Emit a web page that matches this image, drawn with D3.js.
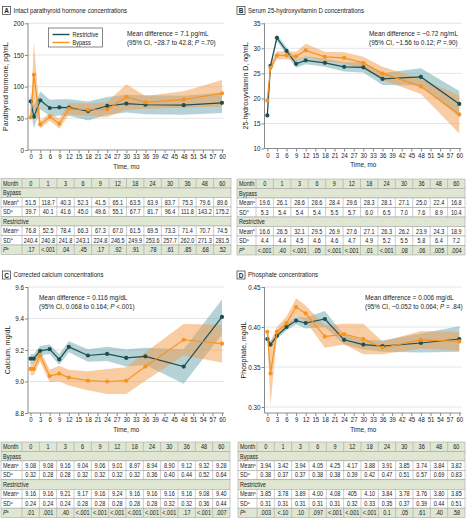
<!DOCTYPE html>
<html><head><meta charset="utf-8">
<script src="https://cdn.jsdelivr.net/npm/d3@7"></script>
<style>
body{margin:0;background:#fff}
svg{display:block;font-family:'Liberation Sans','Arial',sans-serif}
</style></head><body>
<svg id="chart" width="468" height="523"></svg>
<script>
// ---------- data ----------
const months = [0, 1, 3, 6, 9, 12, 18, 24, 30, 36, 48, 60];
const xTickValues = d3.range(0, 61, 3);

// Panel A: intact PTH (pg/mL)
const pthBypassMean = [51.5, 118.7, 40.3, 52.3, 41.5, 65.1, 63.5, 63.9, 83.7, 75.3, 79.6, 89.6];
const pthBypassCI   = [5, 52, 6, 6, 8, 9, 10, 12, 20, 10, 13, 21];
const pthRestrMean  = [76.8, 52.5, 78.4, 66.3, 67.3, 67.0, 61.5, 69.5, 73.3, 71.4, 70.7, 74.5];
const pthRestrCI    = [14, 18, 14, 13, 13, 13, 15, 14, 14, 15, 15, 16];
const pthTicks = [0, 50, 100, 150, 200];

// Panel B: 25-hydroxyvitamin D (ng/mL)
const vitdBypassMean = [19.6, 26.1, 28.6, 28.6, 28.4, 29.6, 28.3, 28.1, 27.1, 25.0, 22.4, 16.8];
const vitdBypassCI   = [0.8, 0.8, 0.8, 0.8, 0.9, 1.3, 1.0, 1.1, 1.2, 1.3, 1.5, 3.8];
const vitdRestrMean  = [16.6, 26.5, 32.1, 29.5, 26.9, 27.6, 27.1, 26.3, 26.2, 23.9, 24.3, 18.9];
const vitdRestrCI    = [0.7, 0.7, 0.7, 0.7, 0.8, 0.8, 0.8, 0.9, 1.0, 1.2, 1.7, 2.6];
const vitdTicks = [10, 15, 20, 25, 30, 35];

// Panel C: corrected calcium (mg/dL), as plotted
const caBypassMean = [9.08, 9.08, 9.165, 9.035, 9.05, 9.025, 9.005, 9.0, 9.005, 9.095, 9.265, 9.24];
const caBypassCI   = [0.04, 0.04, 0.04, 0.04, 0.05, 0.05, 0.06, 0.08, 0.085, 0.09, 0.1, 0.12];
const caRestrMean  = [9.145, 9.145, 9.195, 9.205, 9.14, 9.22, 9.165, 9.175, 9.15, 9.16, 9.095, 9.41];
const caRestrCI    = [0.03, 0.03, 0.03, 0.03, 0.035, 0.035, 0.04, 0.045, 0.055, 0.055, 0.11, 0.11];
const caTicks = [8.8, 9.0, 9.2, 9.4, 9.6];

// Panel D: phosphate, as plotted
const phBypassMean = [0.394, 0.342, 0.394, 0.405, 0.425, 0.417, 0.388, 0.391, 0.385, 0.374, 0.384, 0.382];
const phBypassCI   = [0.004, 0.04, 0.006, 0.008, 0.011, 0.01, 0.014, 0.013, 0.019, 0.008, 0.011, 0.012];
const phRestrMean  = [0.385, 0.378, 0.389, 0.400, 0.408, 0.405, 0.410, 0.384, 0.378, 0.376, 0.380, 0.385];
const phRestrCI    = [0.003, 0.004, 0.004, 0.004, 0.005, 0.007, 0.010, 0.006, 0.006, 0.007, 0.012, 0.016];
const phTicks = [0.30, 0.35, 0.40, 0.45];

// Table rows
const tabMonths = ["0", "1", "3", "6", "9", "12", "18", "24", "30", "36", "48", "60"];
const tabA_bypMean = ["51.5","118.7","40.3","52.3","41.5","65.1","63.5","63.9","83.7","75.3","79.6","89.6"];
const tabA_bypSD   = ["39.7","40.1","41.6","45.0","49.6","55.1","67.7","81.7","96.4","111.8","143.2","175.2"];
const tabA_resMean = ["76.8","52.5","78.4","66.3","67.3","67.0","61.5","69.5","73.3","71.4","70.7","74.5"];
const tabA_resSD   = ["240.4","240.8","241.8","243.1","224.8","246.5","249.9","253.6","257.7","262.0","271.3","281.5"];
const tabA_P       = [".17","<.001",".04",".45",".17",".92",".91",".78",".61",".85",".68",".52"];

const tabB_bypMean = ["19.6","26.1","28.6","28.6","28.4","29.6","28.3","28.1","27.1","25.0","22.4","16.8"];
const tabB_bypSD   = ["5.3","5.4","5.4","5.4","5.5","5.7","6.0","6.5","7.0","7.6","8.9","10.4"];
const tabB_resMean = ["16.6","26.5","32.1","29.5","26.9","27.6","27.1","26.3","26.2","23.9","24.3","18.9"];
const tabB_resSD   = ["4.4","4.4","4.5","4.6","4.6","4.7","4.9","5.2","5.5","5.8","6.4","7.2"];
const tabB_P       = ["<.001",".40","<.001",".05","<.001","<.001",".01","<.001",".08",".06",".005",".004"];

const tabC_bypMean = ["9.08","9.08","9.16","9.04","9.06","9.01","8.97","8.94","8.90","9.12","9.32","9.28"];
const tabC_bypSD   = ["0.32","0.28","0.28","0.32","0.32","0.32","0.32","0.36","0.40","0.44","0.52","0.64"];
const tabC_resMean = ["9.16","9.16","9.21","9.17","9.16","9.24","9.16","9.16","9.16","9.16","9.08","9.40"];
const tabC_resSD   = ["0.24","0.24","0.24","0.28","0.28","0.28","0.28","0.28","0.32","0.32","0.36","0.44"];
const tabC_P       = [".01",".001",".40","<.001","<.001","<.001","<.001","<.001","<.001",".17","<.001",".007"];

const tabD_bypMean = ["3.94","3.42","3.94","4.05","4.25","4.17","3.88","3.91","3.85","3.74","3.84","3.82"];
const tabD_bypSD   = ["0.38","0.37","0.37","0.38","0.38","0.39","0.42","0.47","0.51","0.57","0.69","0.83"];
const tabD_resMean = ["3.85","3.78","3.89","4.00","4.08","405","4.10","3.84","3.78","3.76","3.80","3.85"];
const tabD_resSD   = ["0.31","0.31","0.31","0.31","0.31","0.32","0.33","0.35","0.37","0.39","0.44","0.51"];
const tabD_P       = [".003","<.10",".10",".097","<.001","<.001","<.001","0.1",".05",".61",".40",".58"];

// ---------- styles ----------
const TEAL = "#1f4f4e", ORANGE = "#f7931e";
const TEAL_BAND = "#5a9ea5", ORANGE_BAND = "#f39c4a";
const AXIS = "#8a8a8a", GRID = "#dedede", TXT = "#222";
const GREEN = "#dfe7d2", BORDER = "#9a9a9a";

const svg = d3.select("#chart");

// horizontally condense a text around its x anchor
function condense(sel, k) {
  sel.each(function () {
    const x = +this.getAttribute("x") || 0;
    this.setAttribute("transform", `translate(${x * (1 - k)},0) scale(${k},1)`);
  });
}

function panel(cfg) {
  const g = svg.append("g");
  const x = d3.scaleLinear().domain([0, 60]).range([cfg.x0, cfg.x1]);
  const y = d3.scaleLinear().domain(cfg.domain).range([cfg.yBot, cfg.yTop]);

  // title
  g.append("rect").attr("x", cfg.tx).attr("y", cfg.ty - 6.5).attr("width", 8).attr("height", 8)
    .attr("fill", "#fff").attr("stroke", "#333").attr("stroke-width", 0.7);
  g.append("text").attr("x", cfg.tx + 4).attr("y", cfg.ty).attr("text-anchor", "middle")
    .attr("font-size", 6.5).attr("font-weight", "bold").attr("fill", TXT).text(cfg.letter);
  g.append("text").attr("x", cfg.tx + 11).attr("y", cfg.ty).attr("font-size", 7.5).attr("fill", TXT)
    .text(cfg.title).call(condense, 0.81);

  // gridlines
  g.append("g").selectAll("line").data(cfg.ticks.filter(t => y(t) < cfg.yBot - 1)).join("line")
    .attr("x1", cfg.axisX).attr("x2", cfg.x1 + 2).attr("y1", d => y(d)).attr("y2", d => y(d))
    .attr("stroke", GRID).attr("stroke-width", 0.8);

  // y axis
  const ya = g.append("g").attr("transform", `translate(${cfg.axisX},0)`)
    .call(d3.axisLeft(y).tickValues(cfg.ticks).tickSize(3).tickSizeOuter(0).tickFormat(cfg.fmt));
  ya.select(".domain").attr("stroke", AXIS).attr("d", `M0,${cfg.yTop}V${cfg.yBot}`);
  ya.selectAll(".tick line").attr("stroke", AXIS);
  ya.selectAll(".tick text").attr("font-size", 7).attr("fill", TXT).attr("font-family", null).attr("x", -4)
    .call(condense, 0.9);

  // x axis
  const xa = g.append("g").attr("transform", `translate(0,${cfg.yBot})`)
    .call(d3.axisBottom(x).tickValues(xTickValues).tickSize(3).tickSizeOuter(0));
  xa.select(".domain").attr("stroke", AXIS).attr("d", `M${cfg.axisX},0H${cfg.x1 + 2}`);
  xa.selectAll(".tick line").attr("stroke", AXIS);
  xa.selectAll(".tick text").attr("font-size", 7).attr("fill", TXT).attr("font-family", null).attr("y", 4.5)
    .call(condense, 0.86);
  g.append("text").attr("x", (cfg.x0 + cfg.x1) / 2).attr("y", cfg.yBot + 19).attr("text-anchor", "middle")
    .attr("font-size", 7.2).attr("fill", TXT).text("Time, mo").call(condense, 0.88);

  // y label
  g.append("text").attr("transform", `translate(${cfg.ylx},${(cfg.yTop + cfg.yBot) / 2}) rotate(-90)`)
    .attr("text-anchor", "middle").attr("font-size", 7).attr("fill", TXT).text(cfg.ylabel);

  // bands
  const series = [
    {mean: cfg.rMean, ci: cfg.rCI, band: TEAL_BAND, op: 0.45, col: TEAL},
    {mean: cfg.bMean, ci: cfg.bCI, band: ORANGE_BAND, op: 0.5, col: ORANGE}
  ];
  series.forEach(s => {
    const area = d3.area().x((d, i) => x(months[i]))
      .y0((d, i) => y(s.mean[i] - s.ci[i])).y1((d, i) => y(s.mean[i] + s.ci[i]));
    g.append("path").datum(s.mean).attr("d", area).attr("fill", s.band).attr("fill-opacity", s.op);
  });
  series.forEach(s => {
    const line = d3.line().x((d, i) => x(months[i])).y(d => y(d));
    g.append("path").datum(s.mean).attr("d", line).attr("fill", "none").attr("stroke", s.col).attr("stroke-width", 1.2);
    g.append("g").selectAll("circle").data(s.mean).join("circle")
      .attr("cx", (d, i) => x(months[i])).attr("cy", d => y(d)).attr("r", 2.1).attr("fill", s.col);
  });

  // annotation
  const ann = g.append("text").attr("x", cfg.ax).attr("font-size", 7.3).attr("fill", TXT);
  ann.append("tspan").attr("x", cfg.ax).attr("y", cfg.ay).text(cfg.ann1);
  const l2 = ann.append("tspan").attr("x", cfg.ax).attr("y", cfg.ay + 8.6);
  l2.append("tspan").text(cfg.ann2a);
  l2.append("tspan").attr("font-style", "italic").text("P");
  l2.append("tspan").text(cfg.ann2b);
  ann.call(condense, 0.88);

  // legend
  if (cfg.legend) {
    const L = cfg.legend;
    g.append("rect").attr("x", L.x).attr("y", L.y).attr("width", L.w).attr("height", L.h)
      .attr("fill", "#fff").attr("stroke", "#555").attr("stroke-width", 0.7);
    [["Restrictive", TEAL, 0], ["Bypass", ORANGE, 1]].forEach(([name, col, i]) => {
      const yy = L.y + 6.5 + i * 8;
      g.append("line").attr("x1", L.x + 4).attr("x2", L.x + 21).attr("y1", yy).attr("y2", yy)
        .attr("stroke", col).attr("stroke-width", 1.4);
      g.append("text").attr("x", L.x + 24).attr("y", yy + 2.4).attr("font-size", 6.8).attr("fill", TXT)
        .text(name).call(condense, 0.82);
    });
  }

  // table
  table(g, cfg.tab);
}

function table(g, T) {
  const rows = [
    {kind: "data", label: "Month", vals: tabMonths, fill: GREEN},
    {kind: "group", label: "Bypass", fill: GREEN},
    {kind: "data", label: "Mean", sup: "a", vals: T.bm},
    {kind: "data", label: "SD", sup: "a", vals: T.bs},
    {kind: "group", label: "Restrictive", fill: GREEN},
    {kind: "data", label: "Mean", sup: "a", vals: T.rm},
    {kind: "data", label: "SD", sup: "a", vals: T.rs},
    {kind: "data", label: "P", italic: true, sup: "b", vals: T.p, fill: GREEN}
  ];
  const cw = (T.x1 - T.fc) / 12;
  const fs = 6.9, K = 0.8;
  rows.forEach((r, i) => {
    const yy = T.y0 + i * T.rh;
    g.append("rect").attr("x", T.x0).attr("y", yy).attr("width", T.x1 - T.x0).attr("height", T.rh)
      .attr("fill", r.fill || "#fff").attr("stroke", BORDER).attr("stroke-width", 0.5);
    const by = yy + T.rh / 2 + 2.4;
    const lt = g.append("text").attr("x", T.x0 + 2).attr("y", by).attr("font-size", fs).attr("fill", TXT);
    lt.append("tspan").attr("font-style", r.italic ? "italic" : null).text(r.label);
    if (r.sup) lt.append("tspan").attr("font-size", 4.4).attr("dy", -2.3).text(r.sup);
    lt.call(condense, K);
    if (r.kind === "data") {
      for (let c = 0; c < 12; c++) {
        const xx = T.fc + c * cw;
        g.append("line").attr("x1", xx).attr("x2", xx).attr("y1", yy).attr("y2", yy + T.rh)
          .attr("stroke", BORDER).attr("stroke-width", 0.5);
      }
      r.vals.forEach((v, c) => {
        g.append("text").attr("x", T.fc + (c + 0.5) * cw).attr("y", by).attr("text-anchor", "middle")
          .attr("font-size", fs).attr("fill", TXT).text(v).call(condense, K);
      });
    }
  });
}

panel({
  letter: "A", title: "Intact parathyroid hormone concentrations", tx: 2.5, ty: 13,
  x0: 30.7, x1: 222, axisX: 28, yTop: 23.3, yBot: 150, domain: [0, 200], ticks: pthTicks, fmt: d3.format("d"),
  ylx: 8, ylabel: "Parathyroid hormone, pg/mL",
  bMean: pthBypassMean, bCI: pthBypassCI, rMean: pthRestrMean, rCI: pthRestrCI,
  ax: 127, ay: 36, ann1: "Mean difference = 7.1 pg/mL", ann2a: "(95% CI, −28.7 to 42.8; ", ann2b: " =.70)",
  legend: {x: 48.5, y: 28, w: 54, h: 19},
  tab: {x0: 1, x1: 231, fc: 22, y0: 178.5, rh: 9.5, bm: tabA_bypMean, bs: tabA_bypSD, rm: tabA_resMean, rs: tabA_resSD, p: tabA_P}
});
panel({
  letter: "B", title: "Serum 25-hydroxyvitamin D concentrations", tx: 237, ty: 13,
  x0: 267.3, x1: 459.3, axisX: 264.5, yTop: 23.3, yBot: 148.5, domain: [10, 35], ticks: vitdTicks, fmt: d3.format("d"),
  ylx: 248, ylabel: "25-hydroxyvitamin D, ng/mL",
  bMean: vitdBypassMean, bCI: vitdBypassCI, rMean: vitdRestrMean, rCI: vitdRestrCI,
  ax: 369, ay: 36, ann1: "Mean difference = −0.72 ng/mL", ann2a: "(95% CI, −1.56 to 0.12; ", ann2b: " =.90)",
  tab: {x0: 237, x1: 465, fc: 256, y0: 179, rh: 9.5, bm: tabB_bypMean, bs: tabB_bypSD, rm: tabB_resMean, rs: tabB_resSD, p: tabB_P}
});
panel({
  letter: "C", title: "Corrected calcium concentrations", tx: 2.5, ty: 277.5,
  x0: 30.5, x1: 222, axisX: 28, yTop: 287, yBot: 413, domain: [8.8, 9.6], ticks: caTicks, fmt: d3.format(".1f"),
  ylx: 10, ylabel: "Calcium, mg/dL",
  bMean: caBypassMean, bCI: caBypassCI, rMean: caRestrMean, rCI: caRestrCI,
  ax: 39, ay: 300, ann1: "Mean difference = 0.116 mg/dL", ann2a: "(95% CI, 0.068 to 0.164; ", ann2b: " <.001)",
  tab: {x0: 1, x1: 230, fc: 22, y0: 442, rh: 9.45, bm: tabC_bypMean, bs: tabC_bypSD, rm: tabC_resMean, rs: tabC_resSD, p: tabC_P}
});
panel({
  letter: "D", title: "Phosphate concentrations", tx: 237, ty: 277.5,
  x0: 267.3, x1: 459.3, axisX: 264.5, yTop: 287, yBot: 413, domain: [0.2925, 0.45], ticks: phTicks, fmt: d3.format(".2f"),
  ylx: 246, ylabel: "Phosphate, mg/dL",
  bMean: phBypassMean, bCI: phBypassCI, rMean: phRestrMean, rCI: phRestrCI,
  ax: 365, ay: 300, ann1: "Mean difference = 0.006 mg/dL", ann2a: "(95% CI, −0.052 to 0.064; ", ann2b: " = .84)",
  tab: {x0: 238, x1: 465, fc: 257, y0: 442, rh: 9.45, bm: tabD_bypMean, bs: tabD_bypSD, rm: tabD_resMean, rs: tabD_resSD, p: tabD_P}
});
</script>
</body></html>
